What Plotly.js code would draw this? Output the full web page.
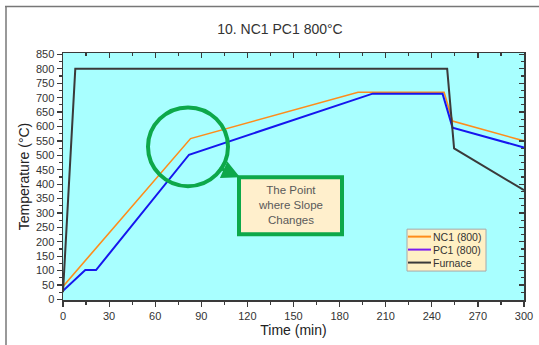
<!DOCTYPE html>
<html>
<head>
<meta charset="utf-8">
<script src="https://cdn.plot.ly/plotly-3.0.1.min.js"></script>
<style>html,body{margin:0;padding:0;background:#fff;}#chart{width:539px;height:345px;}</style>
</head>
<body>
<div id="chart"></div>
<script>
// Data
const nc1Time = [0, 83, 192, 248, 253.5, 300];
const nc1Temp = [45, 558, 719, 719, 619, 550];
const pc1Time = [0, 14.5, 21.5, 82, 201.5, 247, 253.5, 300];
const pc1Temp = [30, 102, 102, 502, 714, 714, 596, 527];
const furnaceTime = [0, 8, 250, 254.5, 300];
const furnaceTemp = [25, 800, 800, 524, 379];
const seriesNames = ['NC1 (800)', 'PC1 (800)', 'Furnace'];
const chartTitle = '10. NC1 PC1 800°C';
const noteText = 'The Point<br>where Slope<br>Changes';

const cOrange = '#FF8C1A', cBlue = '#1616EE', cPurple = '#7A1CF0', cGray = '#3A3A3A', cGreen = '#0DA84A';
const legendColors = [cOrange, cPurple, cGray];

const traces = [
  {x: nc1Time, y: nc1Temp, mode: 'lines', name: seriesNames[0], line: {color: cOrange, width: 1.6}, showlegend: false, hoverinfo: 'skip'},
  {x: pc1Time, y: pc1Temp, mode: 'lines', name: seriesNames[1], line: {color: cBlue, width: 2}, showlegend: false, hoverinfo: 'skip'},
  {x: furnaceTime, y: furnaceTemp, mode: 'lines', name: seriesNames[2], line: {color: cGray, width: 2}, showlegend: false, hoverinfo: 'skip'},
  {x: [null], y: [null], xaxis: 'x2', yaxis: 'y2', mode: 'lines', showlegend: false, hoverinfo: 'skip'}
];

const tickFont = {family: 'Liberation Sans, Arial, sans-serif', size: 11, color: '#333'};
const axisCommon = {showgrid: false, zeroline: false, showline: true, linecolor: '#3a3a3a', linewidth: 1.5, tickcolor: '#3a3a3a', tickwidth: 1.2};

// pixel -> paper helpers (plot area: x 63..524, y 52.5..300)
const px = v => (v - 63) / 461;
const py = v => (300 - v) / 247.5;

const shapes = [
  {type: 'line', xref: 'paper', yref: 'paper', x0: px(6), x1: px(6), y0: py(6), y1: py(345), line: {color: '#777', width: 1.5}},
  {type: 'line', xref: 'paper', yref: 'paper', x0: px(5), x1: px(539), y0: py(6), y1: py(6), line: {color: '#777', width: 1.5}},
  {type: 'circle', xref: 'paper', yref: 'paper', x0: px(148), x1: px(228), y0: py(186), y1: py(107), line: {color: cGreen, width: 4}},
  {type: 'rect', xref: 'paper', yref: 'paper', x0: px(239), x1: px(342), y0: py(234), y1: py(177), fillcolor: '#FFEFCC', line: {color: cGreen, width: 4}},
  // legend box
  {type: 'rect', xref: 'paper', yref: 'paper', x0: px(407), x1: px(486), y0: py(271), y1: py(229), fillcolor: '#FFF0C4', line: {color: '#A8A8A8', width: 1}}
];
const annotations = [
  {xref: 'paper', yref: 'paper', x: px(290.5), y: py(205), text: noteText, showarrow: false, font: {size: 11.5, color: '#5a5a5a'}, align: 'center'},
  {xref: 'paper', yref: 'paper', x: px(240), y: py(177), text: '', showarrow: true, axref: 'pixel', ayref: 'pixel', ax: -22, ay: -10, arrowcolor: cGreen, arrowwidth: 3, arrowhead: 2, arrowsize: 1.2, standoff: 0}
];
seriesNames.forEach((name, i) => {
  const yy = 236.5 + i * 13;
  shapes.push({type: 'line', xref: 'paper', yref: 'paper', x0: px(408), x1: px(431), y0: py(yy), y1: py(yy), line: {color: legendColors[i], width: 2}});
  annotations.push({xref: 'paper', yref: 'paper', x: px(431), y: py(yy), xanchor: 'left', yanchor: 'middle', text: name, showarrow: false, font: {size: 10.5, color: '#333'}});
});

const layout = {
  width: 539, height: 345,
  margin: {l: 63, r: 15, t: 52.5, b: 45},
  paper_bgcolor: '#ffffff',
  plot_bgcolor: '#A8FFFF',
  showlegend: false,
  font: {family: 'Liberation Sans, Arial, sans-serif', color: '#333'},
  title: {text: chartTitle, x: 280/539, xanchor: 'center', y: 1 - 29/345, yanchor: 'middle', yref: 'container', font: {size: 14, color: '#333'}},
  xaxis: Object.assign({}, axisCommon, {
    range: [0, 300], dtick: 30, tick0: 0, ticks: 'outside', ticklen: 5,
    minor: {dtick: 15, ticks: 'outside', ticklen: 3, tickcolor: '#3a3a3a'},
    tickfont: tickFont,
    title: {text: 'Time (min)', font: {size: 14, color: '#222'}, standoff: 4}
  }),
  yaxis: Object.assign({}, axisCommon, {
    range: [-2, 855], dtick: 50, tick0: 0, ticks: 'outside', ticklen: 5,
    minor: {dtick: 25, ticks: 'outside', ticklen: 3, tickcolor: '#3a3a3a'},
    tickfont: tickFont,
    title: {text: 'Temperature (°C)', font: {size: 14, color: '#222'}, standoff: 3}
  }),
  xaxis2: Object.assign({}, axisCommon, {
    overlaying: 'x', side: 'top', anchor: 'y', range: [0, 300], dtick: 30, tick0: 0,
    ticks: 'inside', ticklen: 5, showticklabels: false,
    minor: {dtick: 15, ticks: 'inside', ticklen: 3, tickcolor: '#3a3a3a'}
  }),
  yaxis2: Object.assign({}, axisCommon, {
    overlaying: 'y', side: 'right', anchor: 'x', range: [-2, 855], dtick: 50, tick0: 0,
    ticks: 'inside', ticklen: 5, showticklabels: false,
    minor: {dtick: 25, ticks: 'inside', ticklen: 3, tickcolor: '#3a3a3a'}
  }),
  shapes: shapes,
  annotations: annotations
};

Plotly.newPlot('chart', traces, layout, {displayModeBar: false, staticPlot: true});
</script>
</body>
</html>
